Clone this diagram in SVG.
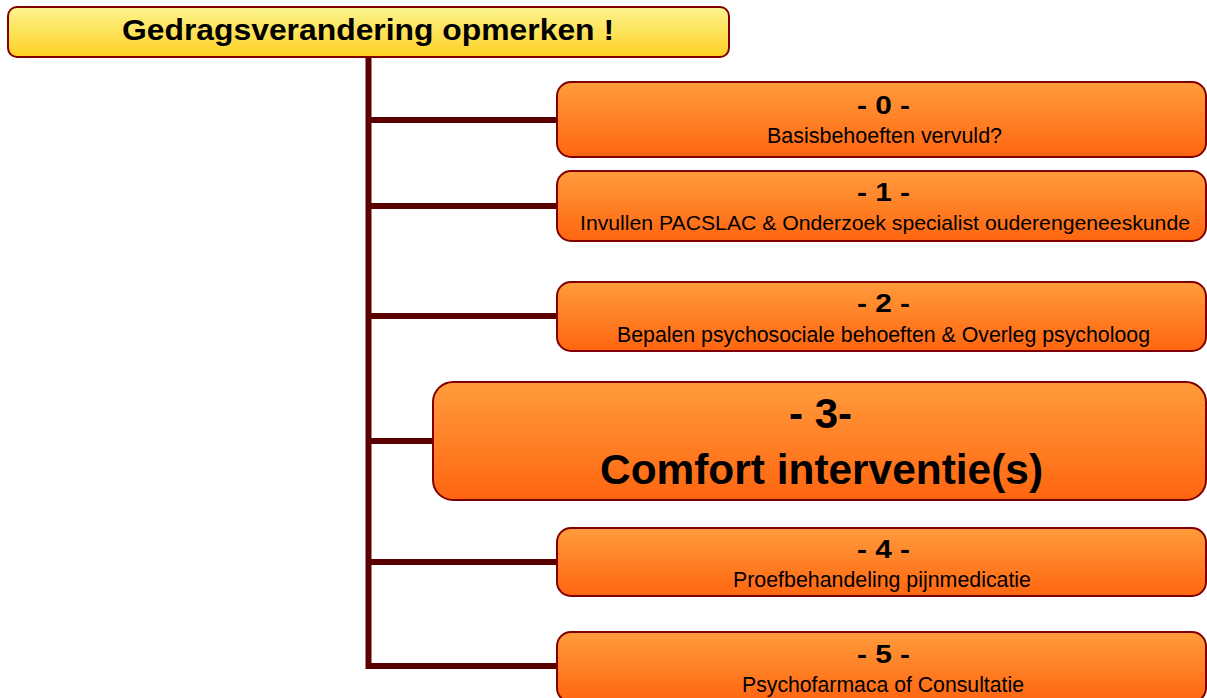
<svg xmlns="http://www.w3.org/2000/svg" width="1207" height="698" viewBox="0 0 1207 698">
  <defs>
    <linearGradient id="gOrange" x1="0" y1="0" x2="0" y2="1">
      <stop offset="0" stop-color="#FF9C3C"/>
      <stop offset="1" stop-color="#FF6510"/>
    </linearGradient>
    <linearGradient id="gYellow" x1="0" y1="0" x2="0" y2="1">
      <stop offset="0" stop-color="#FBF590"/>
      <stop offset="1" stop-color="#FFD022"/>
    </linearGradient>
    <style>
      .box { fill: url(#gOrange); stroke: #800000; stroke-width: 2; }
      .root { fill: url(#gYellow); stroke: #800000; stroke-width: 2; }
      .wire { fill: none; stroke: #5A0000; stroke-width: 6; }
      text { font-family: "Liberation Sans", Arial, sans-serif; fill: #000; text-anchor: middle; }
      .num { font-size: 26px; font-weight: bold; }
      .sub { font-size: 22px; }
      .long { font-size: 21px; }
      .big { font-size: 42px; font-weight: bold; }
      .title { font-size: 30px; font-weight: bold; }
    </style>
  </defs>

  <!-- trunk and branches -->
  <g id="connectors">
    <path class="wire" d="M368.5,57 V666 H558"/>
    <path class="wire" d="M368.5,120 H558"/>
    <path class="wire" d="M368.5,206 H558"/>
    <path class="wire" d="M368.5,316 H558"/>
    <path class="wire" d="M368.5,441 H434"/>
    <path class="wire" d="M368.5,562 H558"/>
  </g>

  <g id="root">
    <rect class="root" x="8" y="7" width="721" height="50" rx="9"/>
    <text class="title" x="368" y="40" textLength="492" lengthAdjust="spacingAndGlyphs">Gedragsverandering opmerken !</text>
  </g>

  <g id="step0">
    <rect class="box" x="557" y="82" width="649" height="75" rx="14"/>
    <text class="num" x="883.5" y="114" textLength="53" lengthAdjust="spacingAndGlyphs">- 0 -</text>
    <text class="sub" x="884.5" y="143" textLength="235" lengthAdjust="spacingAndGlyphs">Basisbehoeften vervuld?</text>
  </g>

  <g id="step1">
    <rect class="box" x="557" y="171" width="649" height="70" rx="14"/>
    <text class="num" x="883.5" y="201" textLength="53" lengthAdjust="spacingAndGlyphs">- 1 -</text>
    <text class="long" x="885" y="230" textLength="610" lengthAdjust="spacingAndGlyphs">Invullen PACSLAC &amp; Onderzoek specialist ouderengeneeskunde</text>
  </g>

  <g id="step2">
    <rect class="box" x="557" y="282" width="649" height="69" rx="14"/>
    <text class="num" x="883.5" y="312" textLength="53" lengthAdjust="spacingAndGlyphs">- 2 -</text>
    <text class="sub" x="883.5" y="342" textLength="533" lengthAdjust="spacingAndGlyphs">Bepalen psychosociale behoeften &amp; Overleg psycholoog</text>
  </g>

  <g id="step3">
    <rect class="box" x="433" y="382" width="773" height="118" rx="20"/>
    <text class="big" x="820.5" y="428">- 3-</text>
    <text class="big" x="821.5" y="484" textLength="443" lengthAdjust="spacingAndGlyphs">Comfort interventie(s)</text>
  </g>

  <g id="step4">
    <rect class="box" x="557" y="528" width="649" height="68" rx="14"/>
    <text class="num" x="883.5" y="558" textLength="53" lengthAdjust="spacingAndGlyphs">- 4 -</text>
    <text class="sub" x="882" y="587" textLength="298" lengthAdjust="spacingAndGlyphs">Proefbehandeling pijnmedicatie</text>
  </g>

  <g id="step5">
    <rect class="box" x="557" y="632" width="649" height="70" rx="14"/>
    <text class="num" x="883.5" y="663" textLength="53" lengthAdjust="spacingAndGlyphs">- 5 -</text>
    <text class="sub" x="883" y="692" textLength="282" lengthAdjust="spacingAndGlyphs">Psychofarmaca of Consultatie</text>
  </g>
</svg>
